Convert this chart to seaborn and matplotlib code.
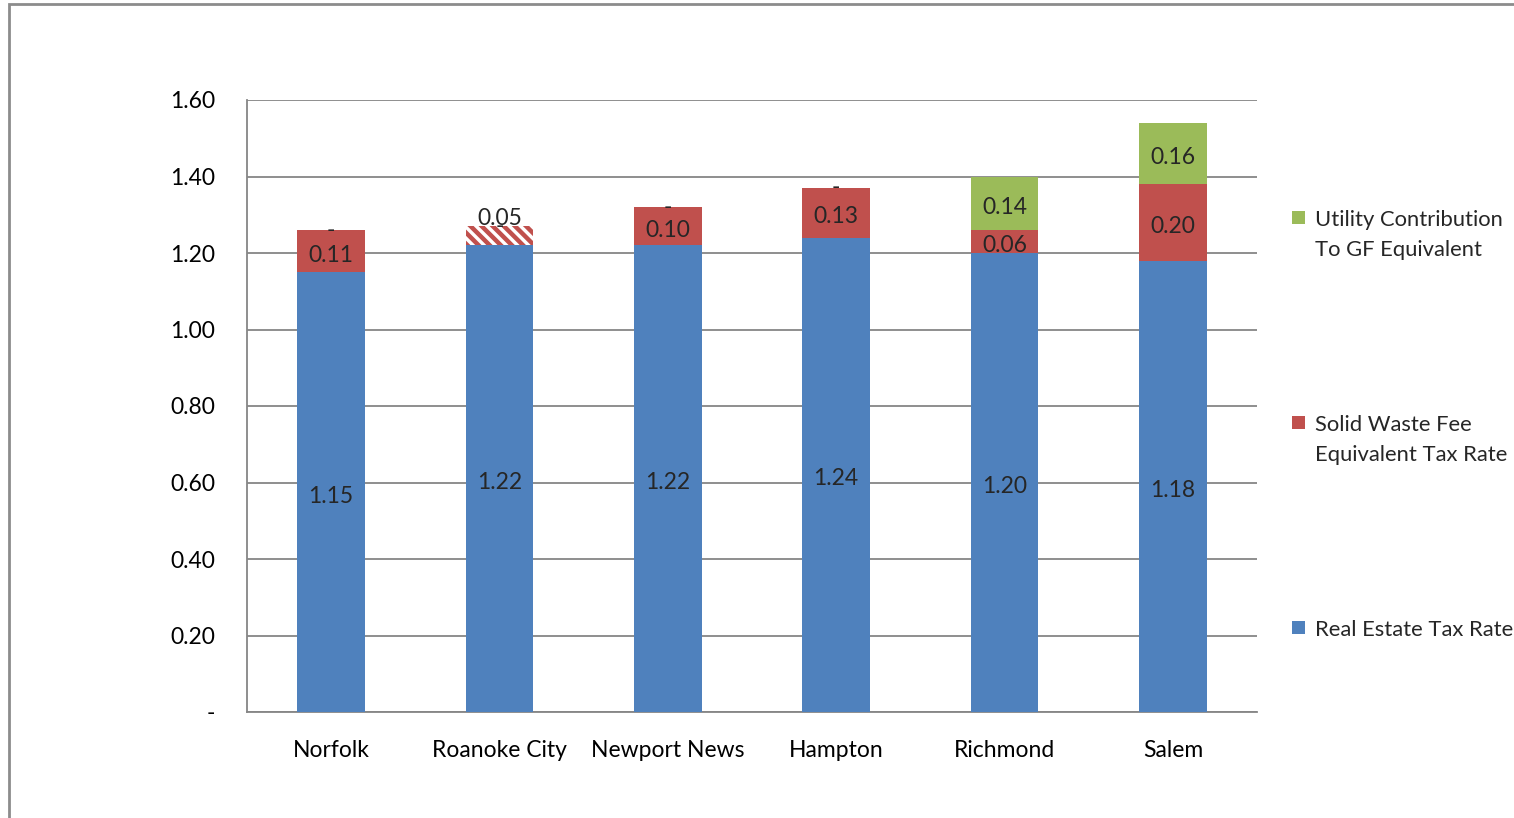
import matplotlib
matplotlib.use("Agg")
import matplotlib.pyplot as plt
import matplotlib.transforms as mtransforms
import seaborn as sns
import pandas as pd
from matplotlib.patches import Rectangle

categories = ["Norfolk", "Roanoke City", "Newport News", "Hampton", "Richmond", "Salem"]
real_estate = [1.15, 1.22, 1.22, 1.24, 1.20, 1.18]
solid_waste = [0.11, 0.05, 0.10, 0.13, 0.06, 0.20]
utility = [0.00, 0.00, 0.00, 0.00, 0.14, 0.16]
hatched_solid_waste = [False, True, False, False, False, False]
y_ticks = [0, 0.2, 0.4, 0.6, 0.8, 1.0, 1.2, 1.4, 1.6]
y_tick_labels = ["-", "0.20", "0.40", "0.60", "0.80", "1.00", "1.20", "1.40", "1.60"]
legend_labels = ["Utility Contribution\nTo GF Equivalent",
                 "Solid Waste Fee\nEquivalent Tax Rate",
                 "Real Estate Tax Rate"]

BLUE, RED, GREEN = "#4F81BD", "#C0504D", "#9BBB59"
GRID = "#868686"

sns.set_theme(style="white")
plt.rcParams["font.family"] = ["Lato", "DejaVu Sans"]
plt.rcParams["hatch.linewidth"] = 3.2

df = pd.DataFrame({"city": categories, "re": real_estate, "sw": solid_waste, "ut": utility})
df["sw_bottom"] = df["re"]
df["ut_bottom"] = df["re"] + df["sw"]

fig = plt.figure(figsize=(15.14, 8.18), dpi=100)
ax = fig.add_axes([247 / 1514, 1 - 712 / 818, (1257 - 247) / 1514, (712 - 100) / 818])

W = 0.4
sns.barplot(data=df, x="city", y="re", color=BLUE, saturation=1, width=W, ax=ax, zorder=3, linewidth=0)
n0 = len(ax.patches)
sns.barplot(data=df, x="city", y="sw", bottom=df["sw_bottom"], color=RED, saturation=1, width=W,
            ax=ax, zorder=3, linewidth=0)
sw_patches = ax.patches[n0:]
sns.barplot(data=df, x="city", y="ut", bottom=df["ut_bottom"], color=GREEN, saturation=1, width=W,
            ax=ax, zorder=3, linewidth=0)

for p, h in zip(sw_patches, hatched_solid_waste):
    if h:
        p.set_facecolor("white")
        p.set_edgecolor(RED)
        p.set_hatch("\\\\\\")
        p.set_linewidth(0)

fs = 16.5
ax.set_ylim(0, 1.6)
ax.set_xlim(-0.5, len(categories) - 0.5)
ax.set_yticks(y_ticks)
ax.set_yticklabels(y_tick_labels, fontsize=fs, color="black")
ax.set_xticks(range(len(categories)))
ax.set_xticklabels(categories, fontsize=fs, color="black")
ax.set_xlabel("")
ax.set_ylabel("")
ax.tick_params(axis="x", which="major", length=0, pad=20.5)
ax.set_xticks([i - 0.5 for i in range(len(categories) + 1)], minor=True)
ax.tick_params(axis="x", which="minor", length=6, width=1.2, color=GRID, direction="out")
ax.tick_params(axis="y", which="major", length=7, width=1.2, color=GRID, direction="out", pad=16)
ax.yaxis.grid(True, color=GRID, linewidth=1.3, zorder=0)
ax.set_axisbelow(True)
for s in ["top", "right"]:
    ax.spines[s].set_visible(False)
for s in ["left", "bottom"]:
    ax.spines[s].set_color(GRID)
    ax.spines[s].set_linewidth(1.3)

down = mtransforms.offset_copy(ax.transData, fig=fig, x=0, y=-4, units="dots")
for i, c in enumerate(categories):
    ax.text(i, real_estate[i] / 2, f"{real_estate[i]:.2f}", ha="center", va="center", fontsize=fs,
            zorder=5, transform=down)
    if hatched_solid_waste[i]:
        ax.text(i, real_estate[i] + solid_waste[i] + 0.03, f"{solid_waste[i]:.2f}", ha="center",
                va="center", fontsize=fs, zorder=5, transform=down)
    else:
        ax.text(i, real_estate[i] + solid_waste[i] / 2, f"{solid_waste[i]:.2f}", ha="center",
                va="center", fontsize=fs, zorder=5, transform=down)
    top = real_estate[i] + solid_waste[i]
    if utility[i] > 0:
        ax.text(i, top + utility[i] / 2, f"{utility[i]:.2f}", ha="center", va="center", fontsize=fs,
                zorder=5, transform=down)
    else:
        ax.text(i, top, "-", ha="center", va="center", fontsize=fs, zorder=5)

# Legend (manual, marker aligned with first line)
leg_colors = [GREEN, RED, BLUE]
leg_y = [218, 423, 628]
for col, lab, yy in zip(leg_colors, legend_labels, leg_y):
    fig.patches.append(Rectangle((1292 / 1514, 1 - (yy + 6) / 818), 13 / 1514, 13 / 818,
                                 transform=fig.transFigure, facecolor=col, edgecolor="none"))
    fig.text(1315 / 1514, 1 - (yy - 8) / 818, lab, ha="left", va="top", fontsize=15.8,
             linespacing=1.62)

# Outer border
fig.patches.append(Rectangle((9 / 1514, -0.05), 1.2, 1 - 4 / 818 + 0.05, transform=fig.transFigure,
                             facecolor="none", edgecolor="#8C8C8C", linewidth=2))

fig.savefig("out.png", dpi=100)
